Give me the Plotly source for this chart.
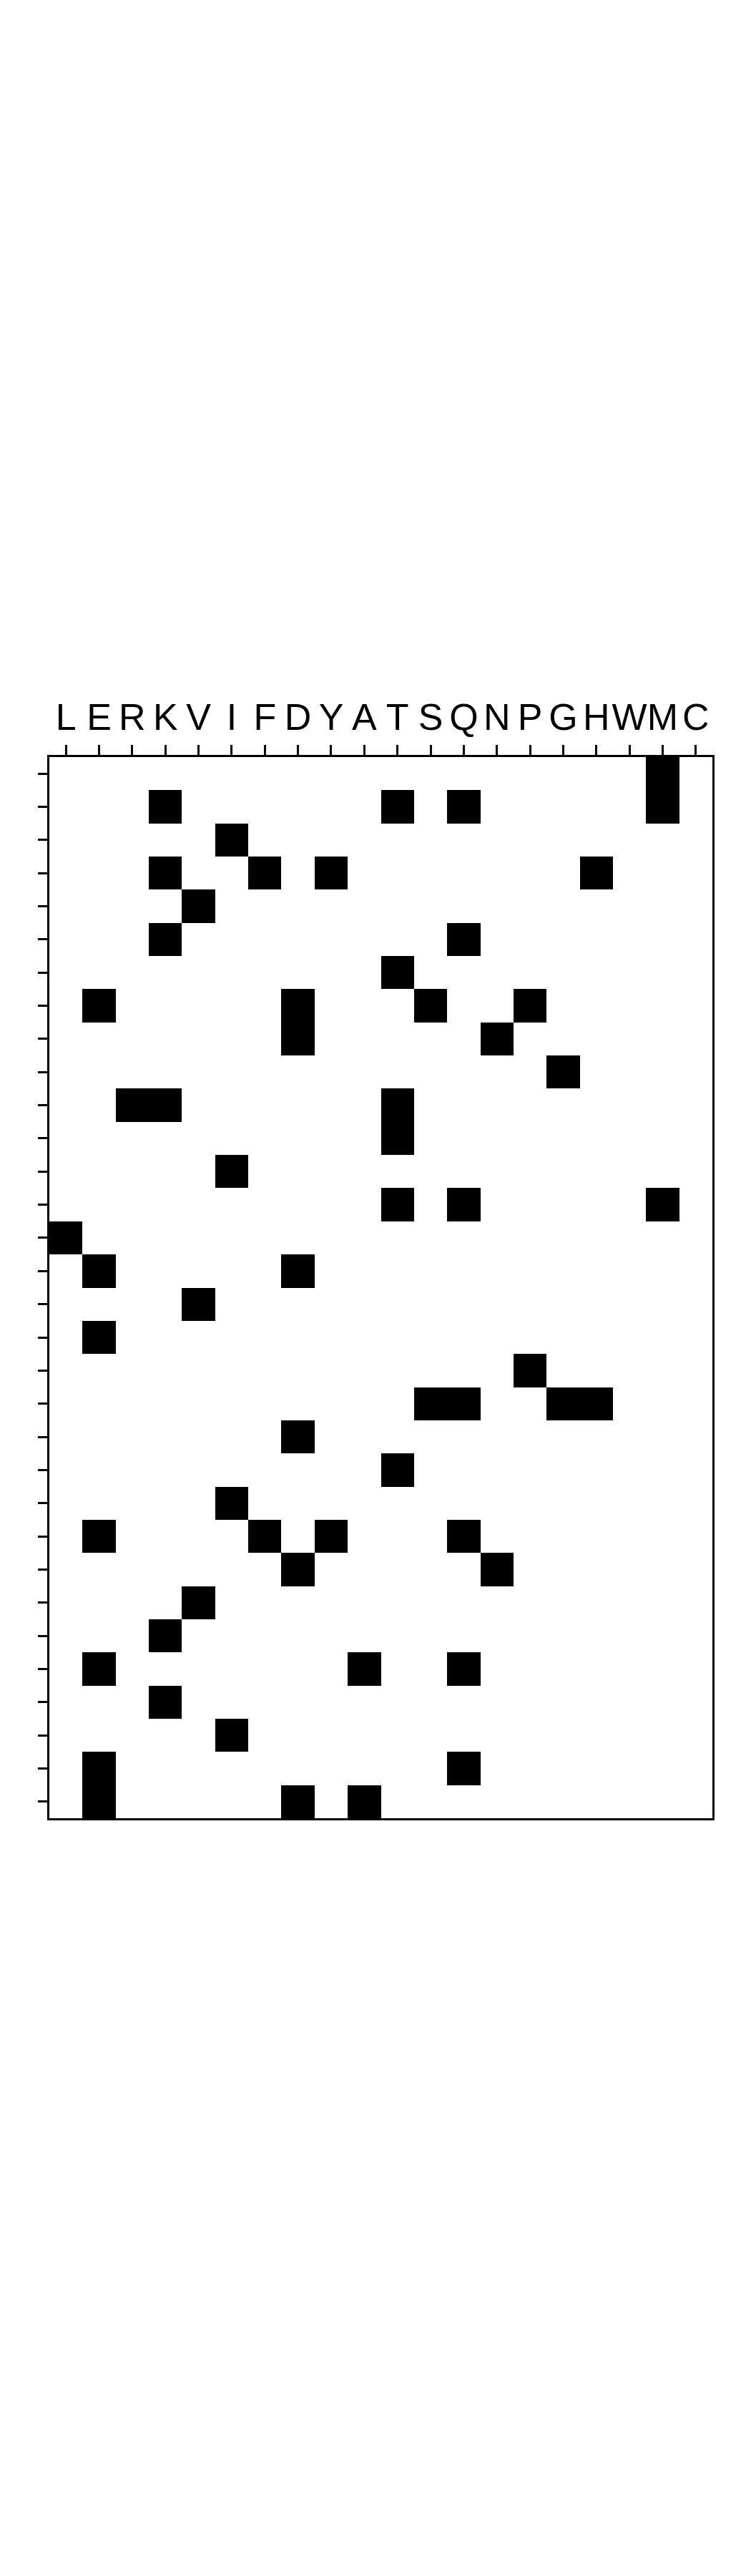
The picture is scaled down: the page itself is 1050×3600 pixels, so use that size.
import plotly.graph_objects as go

residues = ["L", "E", "R", "K", "V", "I", "F", "D", "Y", "A",
            "T", "S", "Q", "N", "P", "G", "H", "W", "M", "C"]

# residues marked (black) in each row, top to bottom
row_marks = [
    ["M"],
    ["K", "T", "Q", "M"],
    ["I"],
    ["K", "F", "Y", "H"],
    ["V"],
    ["K", "Q"],
    ["T"],
    ["E", "D", "S", "P"],
    ["D", "N"],
    ["G"],
    ["R", "K", "T"],
    ["T"],
    ["I"],
    ["T", "Q", "M"],
    ["L"],
    ["E", "D"],
    ["V"],
    ["E"],
    ["P"],
    ["S", "Q", "G", "H"],
    ["D"],
    ["T"],
    ["I"],
    ["E", "F", "Y", "Q"],
    ["D", "N"],
    ["V"],
    ["K"],
    ["E", "A", "Q"],
    ["K"],
    ["I"],
    ["E", "Q"],
    ["E", "D", "A"],
]

row_ids = list(range(len(row_marks)))
z = [[1 if r in marks else 0 for r in residues] for marks in row_marks]

fig = go.Figure(go.Heatmap(
    z=z,
    x=residues,
    y=row_ids,
    colorscale=[[0, "white"], [1, "black"]],
    zmin=0, zmax=1,
    showscale=False,
    hoverinfo="skip",
))

fig.update_layout(
    width=1050, height=3600,
    margin=dict(l=61, r=62, t=1050, b=1067),
    paper_bgcolor="white", plot_bgcolor="white",
    font=dict(family="Liberation Sans, Arial, sans-serif", color="black"),
)
fig.update_xaxes(
    side="top", type="category",
    range=[-0.5, len(residues) - 0.5],
    tickmode="array", tickvals=residues, ticktext=residues, tickangle=0,
    ticks="outside", ticklen=14, tickwidth=2.5, tickcolor="black",
    tickfont=dict(size=52, family="Liberation Sans, Arial, sans-serif", color="black"),
    showline=True, linewidth=3, linecolor="black", mirror=True,
    showgrid=False, zeroline=False, automargin=False,
)
fig.update_yaxes(
    range=[len(row_ids) - 0.5, -0.5],
    tickmode="array", tickvals=row_ids, showticklabels=False,
    ticks="outside", ticklen=13, tickwidth=3, tickcolor="black",
    showline=True, linewidth=3, linecolor="black", mirror=True,
    showgrid=False, zeroline=False, automargin=False,
)

fig.write_html("out.html")
